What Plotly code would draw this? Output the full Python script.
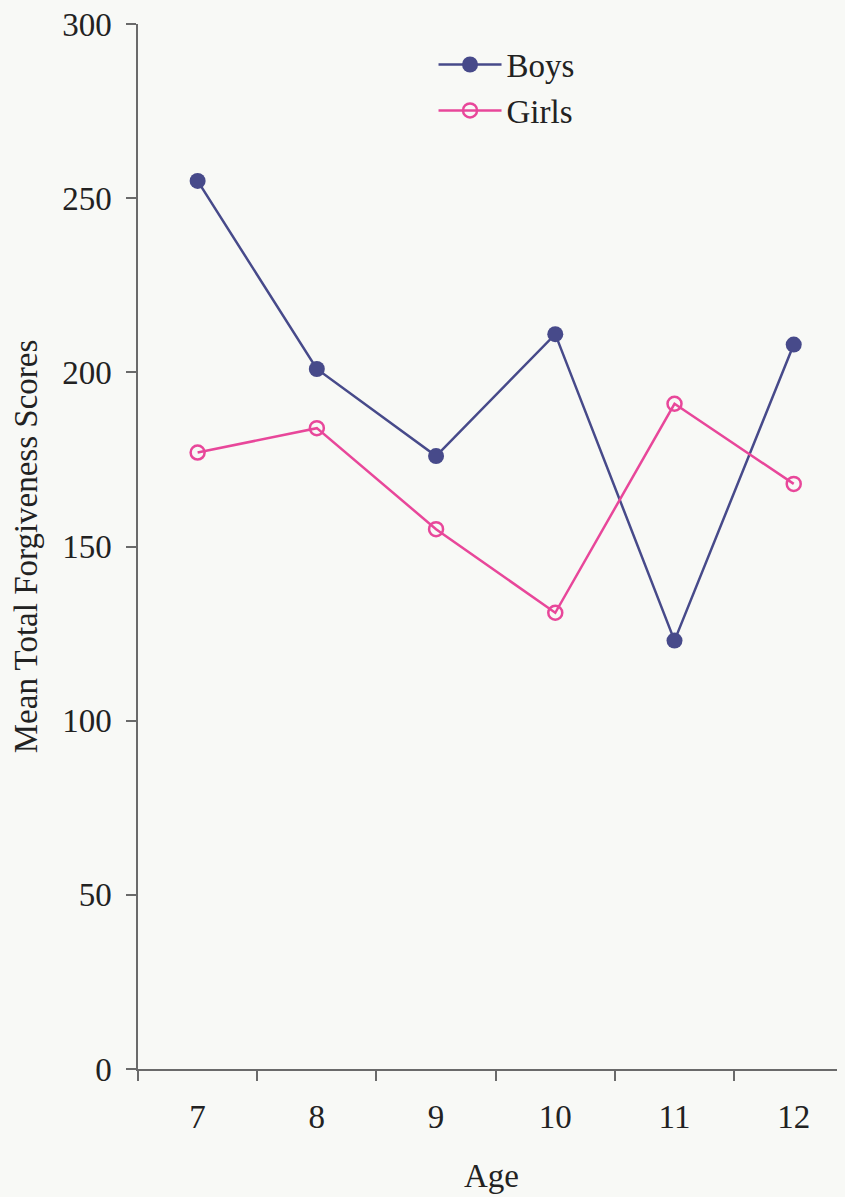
import plotly.graph_objects as go

ages = ["7", "8", "9", "10", "11", "12"]
boys = [255, 201, 176, 211, 123, 208]
girls = [177, 184, 155, 131, 191, 168]

FONT = "Liberation Serif, Times New Roman, serif"
BG = "#f8f9f6"

fig = go.Figure()
fig.add_trace(go.Scatter(
    x=ages, y=boys, name="Boys", mode="lines+markers",
    line=dict(color="#474a8a", width=2.5),
    marker=dict(symbol="circle", size=16, color="#474a8a"),
))
fig.add_trace(go.Scatter(
    x=ages, y=girls, name="Girls", mode="lines+markers",
    line=dict(color="#e8479a", width=2.5),
    marker=dict(symbol="circle-open", size=14, color="#e8479a", line=dict(width=2.5)),
))

fig.update_layout(
    width=837, height=1189,
    margin=dict(l=130, r=0, t=16, b=128),
    paper_bgcolor=BG, plot_bgcolor=BG,
    font=dict(family=FONT, size=33, color="#222222"),
    showlegend=True,
    legend=dict(x=0.418, y=0.988, xanchor="left", yanchor="top",
                bgcolor="rgba(0,0,0,0)", font=dict(size=33),
                tracegroupgap=0, itemwidth=63),
    xaxis=dict(
        type="category", range=[-0.5, 5.43],
        showline=True, linecolor="#6a6a6a", linewidth=1.5,
        ticks="outside", tickson="boundaries", ticklen=10, tickcolor="#6a6a6a", tickwidth=1.5,
        showgrid=False, zeroline=False,
        title=dict(text="Age", standoff=30, font=dict(size=33)),
        ticklabelstandoff=18,
    ),
    yaxis=dict(
        range=[0, 300.05], tickmode="array", tickvals=[0, 50, 100, 150, 200, 250, 300],
        showline=True, linecolor="#6a6a6a", linewidth=1.5,
        ticks="outside", ticklen=10, tickcolor="#6a6a6a", tickwidth=1.5,
        showgrid=False, zeroline=False, ticklabeloverflow="allow",
        title=dict(text="Mean Total Forgiveness Scores", standoff=29, font=dict(size=33)),
        ticklabelstandoff=8,
    ),
)

fig.write_html("out.html", post_script="document.body.style.background='%s';" % BG)
